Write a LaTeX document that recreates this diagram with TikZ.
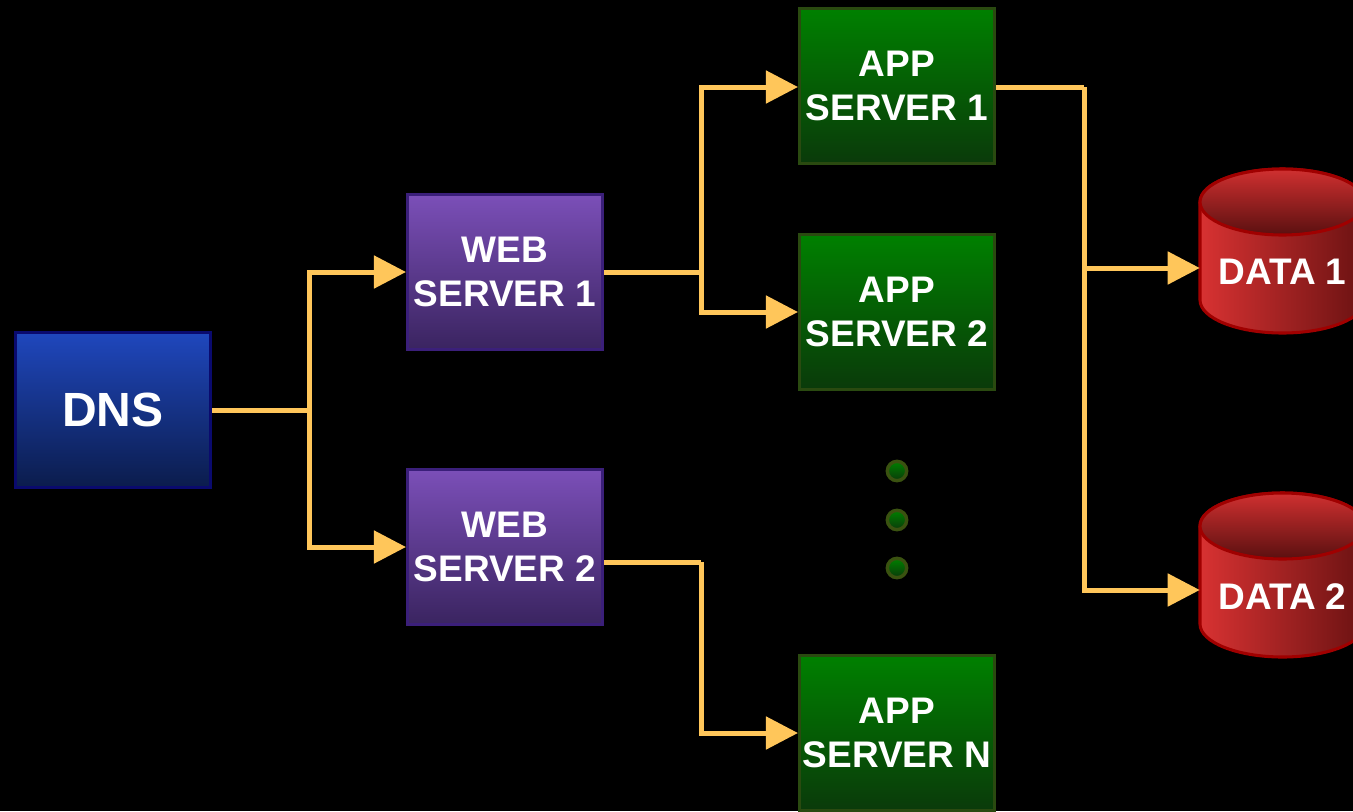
\documentclass[tikz,border=0pt]{standalone}
\usepackage{fontspec}
\setmainfont{Liberation Sans}
\usetikzlibrary{arrows.meta,calc}
\definecolor{conn}{HTML}{FFC65A}
\definecolor{bluetop}{HTML}{1F47BD}\definecolor{bluebot}{HTML}{0B1C4C}\definecolor{blueedge}{HTML}{0A0A6E}
\definecolor{purtop}{HTML}{7B4FB8}\definecolor{purbot}{HTML}{3A2460}\definecolor{puredge}{HTML}{3B1F7A}
\definecolor{grntop}{HTML}{008000}\definecolor{grnbot}{HTML}{0A3A0A}\definecolor{grnedge}{HTML}{2A4A10}
\definecolor{redl}{HTML}{D83232}\definecolor{redr}{HTML}{6A1212}\definecolor{rededge}{HTML}{A00000}
\definecolor{redtop}{HTML}{D03030}\definecolor{redbot}{HTML}{5A1010}
\definecolor{dotedge}{HTML}{3A5210}
\tikzset{
  srvbox/.style={rectangle, draw, line width=2.3pt, minimum width=195*0.75pt, minimum height=155*0.75pt,
    font=\fontsize{27.75pt}{33pt}\selectfont\bfseries, text=white, align=center, inner sep=0pt},
  dnsbox/.style={srvbox, draw=blueedge, top color=bluetop, bottom color=bluebot, font=\fontsize{36pt}{40pt}\selectfont\bfseries},
  webbox/.style={srvbox, draw=puredge, top color=purtop, bottom color=purbot},
  appbox/.style={srvbox, draw=grnedge, top color=grntop, bottom color=grnbot},
  datanode/.style={rectangle, draw=none, minimum width=165*0.75pt, minimum height=100*0.75pt, inner sep=0pt,
    font=\fontsize{27.75pt}{33pt}\selectfont\bfseries, text=white},
  dotnode/.style={circle, draw=dotedge, line width=2.6pt, top color=grntop, bottom color=grnbot, minimum size=14.5pt, inner sep=0pt},
  link/.style={draw=conn, line width=3.75pt},
  arr/.style={link, -{Triangle[length=24pt,width=24pt]}},
}
\begin{document}
\begin{tikzpicture}[x=0.75pt,y=-0.75pt]
\fill[black] (0,0) rectangle (1353,811);
\useasboundingbox (0,0) rectangle (1353,811);
\begin{scope}
\clip (0,0) rectangle (1353,811);
% cylinders
\foreach \top in {202, 526}{
  \begin{scope}[shift={(0,\top)}]
    \path[draw=rededge, line width=2.3pt, left color=redl, right color=redr]
      (1200,0) -- (1200,98) arc[start angle=180, end angle=360, x radius=82.5, y radius=-33]
      -- (1365,0) arc[start angle=0, end angle=180, x radius=82.5, y radius=-33] -- cycle;
    \path[draw=rededge, line width=2.3pt, top color=redtop, bottom color=redbot]
      (1282.5,0) ellipse[x radius=82.5, y radius=33];
  \end{scope}
}
\end{scope}
\node[dnsbox] (dns) at (113,410) {DNS};
\node[webbox] (ws1) at (505,272) {WEB\\SERVER 1};
\node[webbox] (ws2) at (505,547) {WEB\\SERVER 2};
\node[appbox] (as1) at (897,86) {APP\\SERVER 1};
\node[appbox] (as2) at (897,312) {APP\\SERVER 2};
\node[appbox] (asn) at (897,733) {APP\\SERVER N};
\node[datanode] (d1) at (1282.5,272) {DATA 1};
\node[datanode] (d2) at (1282.5,597) {DATA 2};
\node[dotnode] (p1) at (897,471) {};
\node[dotnode] (p2) at (897,520) {};
\node[dotnode] (p3) at (897,568) {};
\coordinate (j1) at (309,410);
\coordinate (j2) at (701,272);
\coordinate (j3) at (701,562);
\coordinate (j4) at (1084,87);
% connectors
\draw[link] (dns.east) -- (j1);
\draw[arr] (j1) |- (ws1.west);
\draw[arr] (j1) |- (ws2.west);
\draw[link] (ws1.east) -- (j2);
\draw[arr] (j2) |- ([yshift=-0.75pt]as1.west);
\draw[arr] (j2) |- (as2.west);
\draw[link] ([yshift=-11.25pt]ws2.east) -- (j3);
\draw[arr] (j3) |- (asn.west);
\draw[link] ([yshift=-0.75pt]as1.east) -- (j4);
\draw[arr] (j4) |- ([yshift=3pt]d1.west);
\draw[arr] (j4) |- ([yshift=5.25pt]d2.west);
\end{tikzpicture}
\end{document}
